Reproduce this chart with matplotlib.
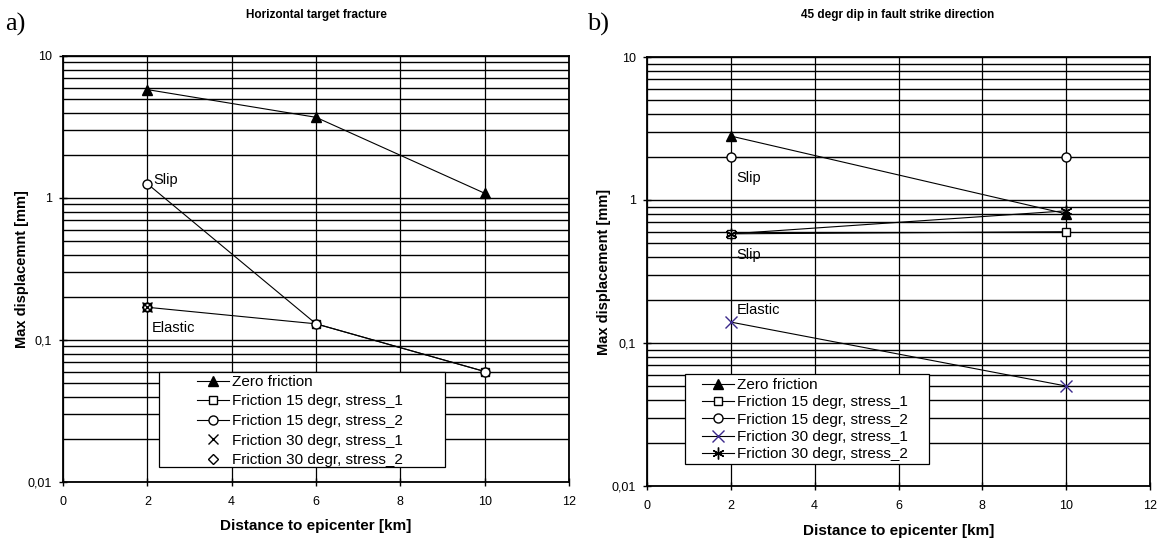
import numpy as np
import matplotlib
matplotlib.use("Agg")
import matplotlib.pyplot as plt
from matplotlib.patches import Rectangle
from matplotlib.ticker import LogLocator, FixedLocator, FuncFormatter, NullFormatter

plt.rcParams['font.family'] = ['Liberation Sans', 'DejaVu Sans']

# === DATA ===
# a) Horizontal target fracture
a_zero_x = [2, 6, 10]
a_zero_y = [5.8, 3.7, 1.08]
a_f15s1_x = [2, 6, 10]
a_f15s1_y = [0.17, 0.13, 0.06]
a_f15s2_x = [2, 6, 10]
a_f15s2_y = [1.26, 0.13, 0.06]
a_f30s1_x = [2]
a_f30s1_y = [0.17]
a_f30s2_x = [2]
a_f30s2_y = [0.17]

# b) 45 degr dip in fault strike direction
b_zero_x = [2, 10]
b_zero_y = [2.8, 0.8]
b_f15s1_x = [2, 10]
b_f15s1_y = [0.58, 0.6]
b_f15s2_x = [2, 10]
b_f15s2_y = [2.0, 2.0]
b_f30s1_x = [2, 10]
b_f30s1_y = [0.14, 0.05]
b_f30s2_x = [2, 10]
b_f30s2_y = [0.58, 0.84]

labels = ["Zero friction", "Friction 15 degr, stress_1", "Friction 15 degr, stress_2",
          "Friction 30 degr, stress_1", "Friction 30 degr, stress_2"]
x_ticks = [0, 2, 4, 6, 8, 10, 12]
y_ticks = [0.01, 0.1, 1, 10]
y_ticklabels = ["0,01", "0,1", "1", "10"]

purple = "#3c2a8c"
W, H = 1168, 543


def px_box(l, t, r, b):
    # pixel box -> figure fraction [left, bottom, width, height]
    return [l / W, 1 - b / H, (r - l) / W, (b - t) / H]


def style_axes(ax, ylabel, ylab_x):
    ax.set_yscale("log")
    ax.set_xlim(0, 12)
    ax.set_ylim(0.01, 10)
    ax.xaxis.set_major_locator(FixedLocator(x_ticks))
    ax.yaxis.set_major_locator(FixedLocator(y_ticks))
    ax.yaxis.set_major_formatter(FuncFormatter(lambda v, p: y_ticklabels[y_ticks.index(v)] if v in y_ticks else ""))
    ax.yaxis.set_minor_locator(LogLocator(base=10, subs=np.arange(2, 10)))
    ax.yaxis.set_minor_formatter(NullFormatter())
    ax.tick_params(axis="y", which="minor", length=0)
    ax.tick_params(axis="both", which="major", direction="inout", length=6, width=1,
                   labelsize=9)
    ax.tick_params(axis="x", pad=7)
    ax.tick_params(axis="y", pad=5)
    ax.grid(True, axis="x", which="major", color="black", lw=0.9)
    ax.grid(True, axis="y", which="both", color="black", lw=1.0)
    for s in ax.spines.values():
        s.set_linewidth(1.3)
    ax.set_xlabel("Distance to epicenter [km]", fontsize=11, fontweight="bold")
    ax.xaxis.set_label_coords(0.5, -0.088)
    ax.set_ylabel(ylabel, fontsize=10.5, fontweight="bold")
    ax.yaxis.set_label_coords(ylab_x, 0.5)
    ax.set_axisbelow(True)


def legend_box(src_ax, box, anchor, spacing):
    # white framed box over the axes, legend text drawn inside it
    l, t, r, b = box
    rect = Rectangle((l / W, 1 - b / H), (r - l) / W, (b - t) / H,
                     transform=fig.transFigure, facecolor="white",
                     edgecolor="black", lw=0.9, zorder=5)
    fig.add_artist(rect)
    h, lab = src_ax.get_legend_handles_labels()
    leg = fig.legend(h, lab, loc="upper left", bbox_to_anchor=anchor, bbox_transform=fig.transFigure,
                     fontsize=11, frameon=False, borderpad=0, labelspacing=spacing,
                     handlelength=2.1, handletextpad=0.2, borderaxespad=0)
    leg.set_zorder(6)
    return leg


fig = plt.figure(figsize=(W / 100, H / 100), dpi=100)
ax1 = fig.add_axes(px_box(63, 56, 569, 482))
ax2 = fig.add_axes(px_box(647, 57, 1150, 486))

lw = 0.8
ms = 6.5

# --- panel a ---
ax1.plot(a_zero_x, a_zero_y, color="black", lw=lw, marker="^", ms=ms, mfc="black", label=labels[0], zorder=3)
ax1.plot(a_f15s1_x, a_f15s1_y, color="black", lw=lw, marker="s", ms=ms - 0.5, mfc="white", label=labels[1], zorder=3)
ax1.plot(a_f15s2_x, a_f15s2_y, color="black", lw=lw, marker="o", ms=ms, mfc="white", label=labels[2], zorder=3)
ax1.plot(a_f30s1_x, a_f30s1_y, color="black", lw=0, marker="x", ms=ms + 1, mew=1.0, label=labels[3], zorder=4)
ax1.plot(a_f30s2_x, a_f30s2_y, color="black", lw=0, marker="D", ms=ms - 1.5, mfc="none", label=labels[4], zorder=4)
ax1.annotate("Slip", (a_f15s2_x[0], a_f15s2_y[0]), xytext=(4, 3), textcoords="offset points",
             fontsize=10.5, ha="left", va="center")
ax1.annotate("Elastic", (a_f30s1_x[0], a_f30s1_y[0]), xytext=(3, -15), textcoords="offset points",
             fontsize=10.5, ha="left", va="center")
style_axes(ax1, "Max displacemnt [mm]", -0.068)
legend_box(ax1, (159, 372, 445, 467), (197 / W, 1 - 375 / H), 0.36)
fig.text(5 / W, 1 - 24 / H, "a)", fontsize=19, family="Liberation Serif", va="center", ha="left")
fig.text(316 / W, 1 - 15 / H, "Horizontal target fracture", fontsize=8.5, fontweight="bold",
         ha="center", va="center")

# --- panel b ---
ax2.plot(b_zero_x, b_zero_y, color="black", lw=lw, marker="^", ms=ms, mfc="black", label=labels[0], zorder=3)
ax2.plot(b_f15s1_x, b_f15s1_y, color="black", lw=lw, marker="s", ms=ms - 0.5, mfc="white", label=labels[1], zorder=3)
ax2.plot(b_f15s2_x, b_f15s2_y, color="black", lw=lw, marker="o", ms=ms, mfc="white", label=labels[2], zorder=3)
ax2.plot(b_f30s1_x, b_f30s1_y, color="black", lw=lw, marker="x", ms=ms + 2, mew=1.0, mec=purple,
         label=labels[3], zorder=4)
ax2.plot(b_f30s2_x, b_f30s2_y, color="black", lw=lw, marker=(6, 2, 0), ms=ms + 2, mew=1.0,
         label=labels[4], zorder=4)
ax2.annotate("Slip", (b_f15s2_x[0], b_f15s2_y[0]), xytext=(4, -15), textcoords="offset points",
             fontsize=10.5, ha="left", va="center")
ax2.annotate("Slip", (b_f15s1_x[0], b_f15s1_y[0]), xytext=(4, -15.5), textcoords="offset points",
             fontsize=10.5, ha="left", va="center")
ax2.annotate("Elastic", (b_f30s1_x[0], b_f30s1_y[0]), xytext=(4, 9), textcoords="offset points",
             fontsize=10.5, ha="left", va="center")
style_axes(ax2, "Max displacement [mm]", -0.072)
legend_box(ax2, (685, 374, 929, 464), (702 / W, 1 - 378 / H), 0.22)
fig.text(587 / W, 1 - 24 / H, "b)", fontsize=19, family="Liberation Serif", va="center", ha="left")
fig.text(898 / W, 1 - 15 / H, "45 degr dip in fault strike direction", fontsize=8.5, fontweight="bold",
         ha="center", va="center")

fig.savefig("out.png", dpi=100)
